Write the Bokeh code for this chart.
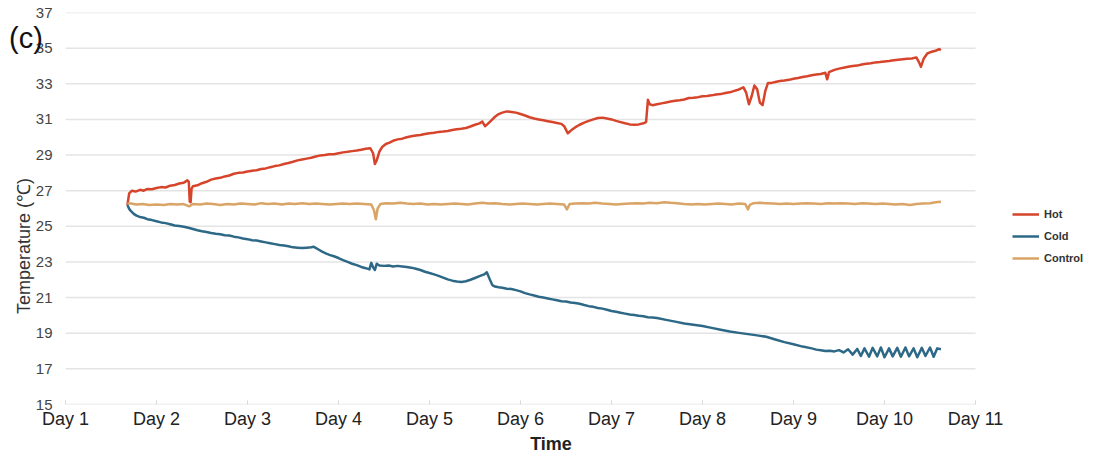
from bokeh.plotting import figure
from bokeh.models import FixedTicker, Legend, LegendItem, Range1d, ColumnDataSource, Div
from bokeh.layouts import column
from bokeh.embed import file_html
from bokeh.resources import INLINE

# ---------------- data ----------------
day_ticks = [1, 2, 3, 4, 5, 6, 7, 8, 9, 10, 11]
day_labels = ["Day 1", "Day 2", "Day 3", "Day 4", "Day 5", "Day 6",
              "Day 7", "Day 8", "Day 9", "Day 10", "Day 11"]
temp_ticks = [15, 17, 19, 21, 23, 25, 27, 29, 31, 33, 35, 37]

hot_t = [1.68, 1.70, 1.73, 1.77, 1.82, 1.86, 1.90, 1.95, 2.00, 2.05, 2.10, 2.15, 2.20, 2.25, 2.30, 2.34,
         2.355, 2.365, 2.375, 2.385, 2.40, 2.45, 2.50, 2.55, 2.60, 2.65, 2.70, 2.75, 2.80, 2.85, 2.90, 2.95,
         3.00, 3.05, 3.10, 3.15, 3.20, 3.25, 3.30, 3.35, 3.40, 3.45, 3.50, 3.55, 3.60, 3.65, 3.70, 3.75,
         3.80, 3.85, 3.90, 3.95, 4.00, 4.05, 4.10, 4.15, 4.20, 4.25, 4.30, 4.35, 4.38, 4.40, 4.42, 4.45,
         4.48, 4.52, 4.56, 4.60, 4.65, 4.70, 4.75, 4.80, 4.85, 4.90, 4.95, 5.00, 5.05, 5.10, 5.15, 5.20,
         5.25, 5.30, 5.35, 5.40, 5.45, 5.50, 5.55, 5.58, 5.61, 5.64, 5.68, 5.72, 5.76, 5.80, 5.85, 5.90,
         5.95, 6.00, 6.05, 6.10, 6.15, 6.20, 6.25, 6.30, 6.35, 6.40, 6.45, 6.48, 6.52, 6.56, 6.60, 6.65,
         6.70, 6.75, 6.80, 6.85, 6.90, 6.95, 7.00, 7.05, 7.10, 7.15, 7.20, 7.25, 7.30, 7.35, 7.38, 7.40,
         7.42, 7.45, 7.50, 7.55, 7.60, 7.65, 7.70, 7.75, 7.80, 7.85, 7.90, 7.95, 8.00, 8.05, 8.10, 8.15,
         8.20, 8.25, 8.30, 8.35, 8.40, 8.45, 8.48, 8.51, 8.54, 8.57, 8.60, 8.63, 8.66, 8.69, 8.72, 8.76,
         8.80, 8.85, 8.90, 8.95, 9.00, 9.05, 9.10, 9.15, 9.20, 9.25, 9.30, 9.35, 9.37, 9.39, 9.45, 9.50,
         9.55, 9.60, 9.65, 9.70, 9.75, 9.80, 9.85, 9.90, 9.95, 10.00, 10.05, 10.10, 10.15, 10.20, 10.25,
         10.30, 10.35, 10.38, 10.40, 10.43, 10.47, 10.52, 10.56, 10.60, 10.62]
hot_v = [26.20, 26.85, 27.00, 26.95, 27.05, 27.00, 27.10, 27.08, 27.15, 27.20, 27.18, 27.28, 27.32, 27.40, 27.45, 27.58,
         27.50, 26.40, 26.35, 27.10, 27.25, 27.30, 27.42, 27.50, 27.62, 27.68, 27.72, 27.80, 27.85, 27.95, 28.00, 28.02,
         28.08, 28.12, 28.15, 28.22, 28.25, 28.32, 28.38, 28.42, 28.50, 28.55, 28.62, 28.70, 28.75, 28.80, 28.85, 28.92,
         28.98, 29.00, 29.05, 29.05, 29.10, 29.15, 29.18, 29.22, 29.25, 29.30, 29.35, 29.38, 29.10, 28.50, 28.70, 29.20,
         29.45, 29.62, 29.70, 29.80, 29.88, 29.92, 30.00, 30.05, 30.10, 30.12, 30.18, 30.22, 30.25, 30.30, 30.32, 30.35,
         30.40, 30.45, 30.48, 30.52, 30.60, 30.70, 30.78, 30.88, 30.62, 30.75, 30.95, 31.15, 31.30, 31.38, 31.45, 31.42,
         31.38, 31.30, 31.22, 31.12, 31.05, 31.00, 30.95, 30.90, 30.85, 30.80, 30.75, 30.62, 30.22, 30.40, 30.55, 30.70,
         30.82, 30.92, 31.00, 31.08, 31.10, 31.05, 31.00, 30.92, 30.85, 30.78, 30.72, 30.70, 30.72, 30.78, 30.85, 32.10,
         31.85, 31.80, 31.85, 31.90, 31.95, 32.00, 32.05, 32.08, 32.12, 32.20, 32.22, 32.25, 32.30, 32.32, 32.35, 32.40,
         32.42, 32.48, 32.52, 32.60, 32.68, 32.80, 32.50, 31.85, 32.30, 32.90, 32.70, 31.95, 31.80, 32.60, 33.05, 33.05,
         33.10, 33.15, 33.18, 33.22, 33.28, 33.32, 33.38, 33.42, 33.48, 33.52, 33.55, 33.62, 33.25, 33.65, 33.78, 33.85,
         33.90, 33.95, 34.00, 34.02, 34.08, 34.12, 34.15, 34.20, 34.22, 34.25, 34.28, 34.32, 34.35, 34.38, 34.40,
         34.42, 34.48, 34.20, 33.95, 34.40, 34.70, 34.80, 34.85, 34.95, 34.88]

cold_t = [1.68, 1.70, 1.72, 1.75, 1.78, 1.82, 1.86, 1.90, 1.95, 2.00, 2.05, 2.10, 2.15, 2.20, 2.25, 2.30,
          2.35, 2.40, 2.45, 2.50, 2.55, 2.60, 2.65, 2.70, 2.75, 2.80, 2.85, 2.90, 2.95, 3.00, 3.05, 3.10,
          3.15, 3.20, 3.25, 3.30, 3.35, 3.40, 3.45, 3.50, 3.55, 3.60, 3.65, 3.70, 3.73, 3.78, 3.82, 3.86,
          3.90, 3.95, 4.00, 4.05, 4.10, 4.15, 4.20, 4.25, 4.30, 4.34, 4.36, 4.38, 4.40, 4.42, 4.45, 4.50,
          4.55, 4.60, 4.65, 4.70, 4.75, 4.80, 4.85, 4.90, 4.95, 5.00, 5.05, 5.10, 5.15, 5.20, 5.25, 5.30,
          5.35, 5.40, 5.45, 5.50, 5.55, 5.60, 5.63, 5.66, 5.69, 5.72, 5.76, 5.80, 5.85, 5.90, 5.95, 6.00,
          6.05, 6.10, 6.15, 6.20, 6.25, 6.30, 6.35, 6.40, 6.45, 6.50, 6.55, 6.60, 6.65, 6.70, 6.75, 6.80,
          6.85, 6.90, 6.95, 7.00, 7.05, 7.10, 7.15, 7.20, 7.25, 7.30, 7.35, 7.40, 7.45, 7.50, 7.60, 7.70,
          7.80, 7.90, 8.00, 8.10, 8.20, 8.30, 8.40, 8.50, 8.60, 8.70, 8.80, 8.90, 9.00, 9.10, 9.20, 9.25,
          9.30, 9.35, 9.40, 9.45, 9.50, 9.55, 9.60, 9.65, 9.70, 9.74, 9.78, 9.83, 9.87, 9.92, 9.96, 10.00,
          10.05, 10.09, 10.14, 10.18, 10.23, 10.27, 10.32, 10.36, 10.41, 10.45, 10.50, 10.54, 10.58, 10.62]
cold_v = [26.20, 25.98, 25.85, 25.70, 25.60, 25.52, 25.48, 25.40, 25.35, 25.28, 25.22, 25.18, 25.12, 25.05, 25.02, 24.98,
          24.92, 24.85, 24.78, 24.72, 24.68, 24.62, 24.58, 24.55, 24.50, 24.48, 24.42, 24.38, 24.32, 24.28, 24.22, 24.20,
          24.15, 24.10, 24.05, 24.00, 23.95, 23.92, 23.88, 23.82, 23.80, 23.78, 23.80, 23.82, 23.85, 23.70, 23.58, 23.48,
          23.40, 23.32, 23.22, 23.10, 23.00, 22.90, 22.82, 22.72, 22.65, 22.58, 22.95, 22.70, 22.55, 22.90, 22.80, 22.78,
          22.80, 22.75, 22.78, 22.75, 22.72, 22.68, 22.62, 22.55, 22.45, 22.38, 22.30, 22.22, 22.12, 22.02, 21.95, 21.90,
          21.88, 21.92, 22.00, 22.10, 22.20, 22.30, 22.42, 22.05, 21.70, 21.62, 21.58, 21.55, 21.50, 21.48, 21.42, 21.35,
          21.25, 21.18, 21.12, 21.05, 21.00, 20.95, 20.90, 20.85, 20.80, 20.78, 20.72, 20.70, 20.65, 20.58, 20.52, 20.48,
          20.42, 20.38, 20.32, 20.25, 20.20, 20.15, 20.10, 20.05, 20.02, 19.98, 19.95, 19.90, 19.88, 19.85, 19.75, 19.65,
          19.55, 19.48, 19.40, 19.30, 19.20, 19.10, 19.02, 18.95, 18.88, 18.80, 18.65, 18.50, 18.38, 18.25, 18.15, 18.08,
          18.05, 18.00, 18.02, 17.98, 18.05, 17.92, 18.10, 17.80, 18.12, 17.72, 18.15, 17.68, 18.18, 17.70, 18.20, 17.65,
          18.15, 17.70, 18.18, 17.68, 18.20, 17.70, 18.15, 17.65, 18.18, 17.72, 18.20, 17.68, 18.15, 18.10]

ctrl_t = [1.68, 1.72, 1.78, 1.85, 1.92, 2.00, 2.08, 2.15, 2.22, 2.30, 2.36, 2.40, 2.48, 2.55, 2.62, 2.70,
          2.78, 2.85, 2.92, 3.00, 3.08, 3.15, 3.22, 3.30, 3.38, 3.45, 3.52, 3.60, 3.68, 3.75, 3.82, 3.90,
          3.98, 4.05, 4.12, 4.20, 4.28, 4.36, 4.39, 4.41, 4.43, 4.46, 4.52, 4.60, 4.68, 4.75, 4.82, 4.90,
          4.98, 5.05, 5.12, 5.20, 5.28, 5.35, 5.42, 5.50, 5.58, 5.65, 5.72, 5.80, 5.88, 5.95, 6.02, 6.10,
          6.18, 6.25, 6.32, 6.40, 6.48, 6.51, 6.54, 6.60, 6.68, 6.75, 6.82, 6.90, 6.98, 7.05, 7.12, 7.20,
          7.28, 7.35, 7.42, 7.50, 7.58, 7.65, 7.72, 7.80, 7.88, 7.95, 8.02, 8.10, 8.18, 8.25, 8.32, 8.40,
          8.47, 8.50, 8.52, 8.56, 8.62, 8.70, 8.78, 8.85, 8.92, 9.00, 9.08, 9.15, 9.22, 9.30, 9.38, 9.45,
          9.52, 9.60, 9.68, 9.75, 9.82, 9.90, 9.98, 10.05, 10.12, 10.20, 10.28, 10.35, 10.42, 10.50, 10.56, 10.62]
ctrl_v = [26.30, 26.28, 26.22, 26.25, 26.20, 26.22, 26.20, 26.25, 26.22, 26.25, 26.12, 26.25, 26.22, 26.28, 26.25, 26.20,
          26.25, 26.22, 26.28, 26.25, 26.22, 26.30, 26.25, 26.28, 26.22, 26.28, 26.25, 26.30, 26.25, 26.28, 26.25, 26.22,
          26.25, 26.28, 26.25, 26.28, 26.25, 26.22, 25.90, 25.40, 26.00, 26.25, 26.30, 26.28, 26.32, 26.28, 26.25, 26.28,
          26.22, 26.25, 26.22, 26.25, 26.28, 26.25, 26.22, 26.28, 26.32, 26.28, 26.30, 26.25, 26.22, 26.25, 26.28, 26.25,
          26.22, 26.25, 26.28, 26.25, 26.22, 25.95, 26.25, 26.28, 26.30, 26.28, 26.32, 26.28, 26.25, 26.22, 26.25, 26.28,
          26.30, 26.28, 26.32, 26.30, 26.35, 26.32, 26.30, 26.25, 26.22, 26.25, 26.22, 26.25, 26.28, 26.25, 26.22, 26.28,
          26.25, 25.95, 26.20, 26.30, 26.32, 26.30, 26.28, 26.25, 26.28, 26.25, 26.28, 26.30, 26.28, 26.25, 26.30, 26.28,
          26.30, 26.28, 26.25, 26.30, 26.28, 26.25, 26.28, 26.25, 26.22, 26.25, 26.20, 26.25, 26.28, 26.30, 26.35, 26.38]

series_names = ["Hot", "Cold", "Control"]
series_colors = ["#d6452b", "#2d6886", "#d9a466"]

# ---------------- figure ----------------
FONT = "Liberation Sans"
NBSP = "\u00a0"
W, H = 1086, 456
LEFT, RIGHT_EDGE_PX = 65, 975          # frame left and x of "Day 11" in pixels
px_per_day = (RIGHT_EDGE_PX - LEFT) / (day_ticks[-1] - day_ticks[0])
x_end = day_ticks[-1] + (W - RIGHT_EDGE_PX) / px_per_day   # frame reaches canvas edge (room for legend)

p = figure(width=W, height=H, x_range=Range1d(day_ticks[0], x_end), y_range=Range1d(15, 37),
           output_backend="svg", toolbar_location=None,
           min_border_left=LEFT, min_border_right=0, min_border_top=12, min_border_bottom=48)
p.outline_line_color = None
p.background_fill_color = "white"
p.border_fill_color = "white"

# horizontal grid lines only across the Day 1 .. Day 11 span
p.xgrid.visible = False
p.ygrid.visible = False
p.segment(x0=[day_ticks[0]] * len(temp_ticks), x1=[day_ticks[-1]] * len(temp_ticks),
          y0=temp_ticks, y1=temp_ticks, line_color="#e4e4e4", line_width=1.5, level="underlay")

p.yaxis.ticker = FixedTicker(ticks=temp_ticks)
p.yaxis.axis_line_color = None
p.yaxis.major_tick_line_color = None
p.yaxis.minor_tick_line_color = None
p.yaxis.major_label_text_font = FONT
p.yaxis.major_label_text_font_size = "15px"
p.yaxis.major_label_text_color = "#444444"
p.yaxis.major_label_standoff = 7
p.yaxis.axis_label = "Temperature (\u2103)" + NBSP * 15
p.yaxis.axis_label_text_font = FONT
p.yaxis.axis_label_text_font_size = "18px"
p.yaxis.axis_label_text_font_style = "normal"
p.yaxis.axis_label_text_color = "#333333"
p.yaxis.axis_label_standoff = -1

p.xaxis.ticker = FixedTicker(ticks=day_ticks)
p.xaxis.major_label_overrides = {t: l for t, l in zip(day_ticks, day_labels)}
p.xaxis.axis_line_color = None
p.xaxis.major_tick_line_color = "#d8d8d8"
p.xaxis.major_tick_in = 4
p.xaxis.major_tick_out = 0
p.xaxis.minor_tick_line_color = None
p.xaxis.major_label_text_font = FONT
p.xaxis.major_label_text_font_size = "18px"
p.xaxis.major_label_text_color = "#222222"
p.xaxis.major_label_standoff = 4
p.xaxis.axis_label = "Time" + NBSP * 10
p.xaxis.axis_label_text_font = FONT
p.xaxis.axis_label_text_font_size = "18px"
p.xaxis.axis_label_text_font_style = "bold"
p.xaxis.axis_label_text_color = "#222222"
p.xaxis.axis_label_standoff = 2

items = []
for name, color, tt, vv in zip(series_names, series_colors,
                               [hot_t, cold_t, ctrl_t], [hot_v, cold_v, ctrl_v]):
    src = ColumnDataSource(data=dict(t=tt, v=vv))
    r = p.line("t", "v", source=src, line_color=color, line_width=2.5, line_join="round")
    items.append(LegendItem(label=name, renderers=[r]))

legend = Legend(items=items, location=(947, 139), orientation="vertical",
                label_text_font=FONT, label_text_font_size="11px", label_text_font_style="bold",
                label_text_color="#333333", glyph_width=27, glyph_height=14, label_height=14,
                spacing=8, padding=0, margin=0, border_line_color=None,
                background_fill_alpha=0, label_standoff=5)
p.add_layout(legend)

panel_tag = Div(text="(c)", width=44, height=34,
                styles={"position": "absolute", "left": "4px", "top": "17px", "z-index": "10",
                        "font-family": FONT, "font-size": "29px", "color": "#111111",
                        "line-height": "32px"})

layout = column(p, panel_tag)
open("out.html", "w").write(file_html(layout, INLINE))
